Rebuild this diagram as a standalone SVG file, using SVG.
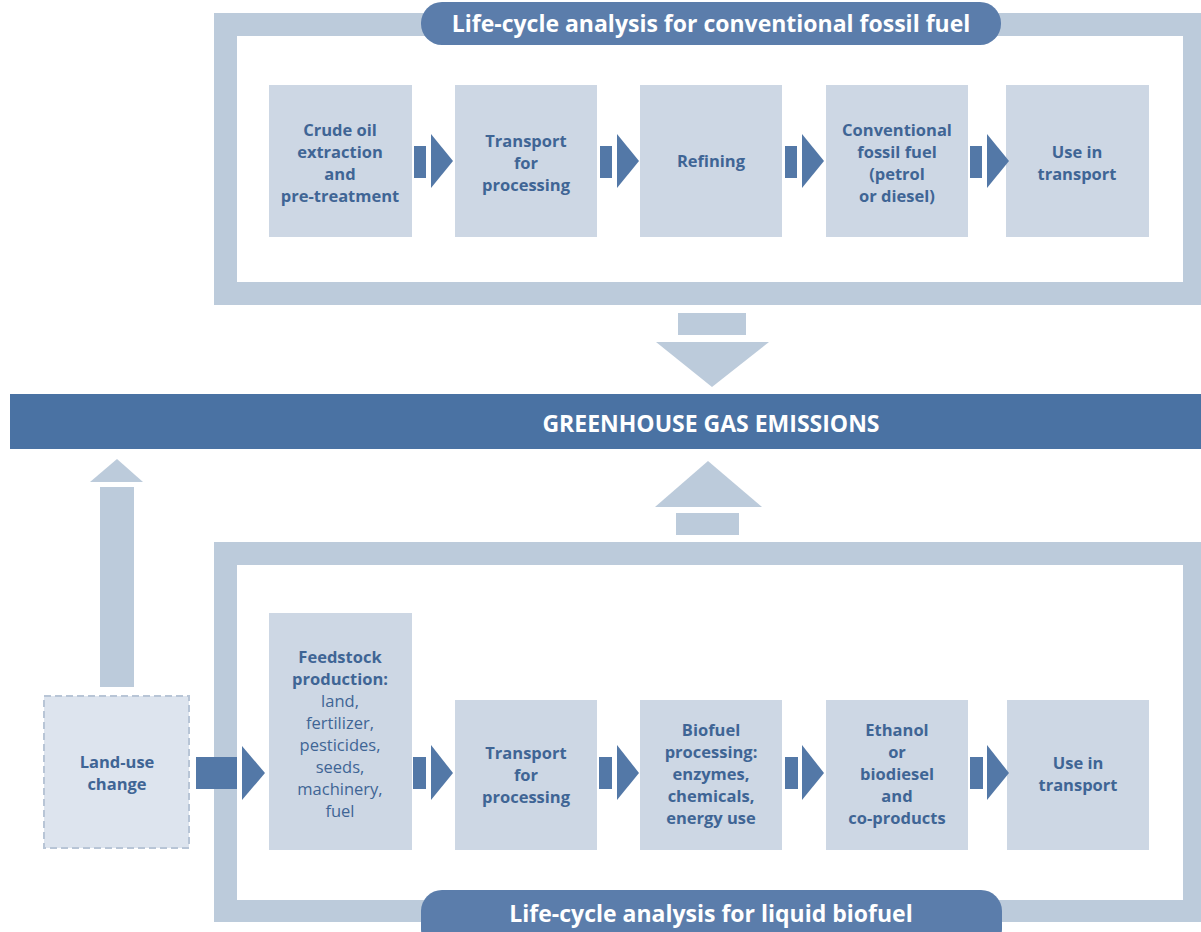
<svg xmlns="http://www.w3.org/2000/svg" width="1201" height="932" viewBox="0 0 1201 932">
<style>
.frame{fill:#bccbdb}
.inner{fill:#ffffff}
.box{fill:#cdd7e4}
.pill{fill:#5b7dab}
.dark{fill:#5378a7}
.light{fill:#bccbdb}
.t{font-family:"Open Sans","Liberation Sans",sans-serif;font-weight:700;font-size:16.5px;fill:#3f6595;text-anchor:middle}
.r{font-weight:400}
.w{font-family:"Open Sans","Liberation Sans",sans-serif;font-weight:700;fill:#ffffff;text-anchor:middle}
</style>
<rect width="1201" height="932" fill="#ffffff"/>
<g id="frame-fossil">
<rect class="frame" x="214" y="13" width="987" height="292"/>
<rect class="inner" x="237" y="36" width="946" height="246"/>
<rect class="pill" x="421" y="2" width="580" height="43" rx="21"/>
<text class="w" x="711" y="32" font-size="23">Life-cycle analysis for conventional fossil fuel</text>
</g>
<g id="frame-biofuel">
<rect class="frame" x="214" y="542" width="987" height="380"/>
<rect class="inner" x="237" y="565" width="946" height="335"/>
<rect class="pill" x="421" y="890" width="581" height="60" rx="21"/>
<text class="w" x="711" y="922" font-size="23">Life-cycle analysis for liquid biofuel</text>
</g>
<g id="ghg">
<rect x="10" y="394" width="1191" height="55" fill="#4a72a3"/>
<text class="w" x="711" y="432" font-size="23">GREENHOUSE GAS EMISSIONS</text>
</g>
<g id="n-crude">
<rect class="box" x="269" y="85" width="143" height="152"/>
<text class="t" x="340" y="136">Crude oil</text>
<text class="t" x="340" y="158">extraction</text>
<text class="t" x="340" y="180">and</text>
<text class="t" x="340" y="202">pre-treatment</text>
</g>
<g id="n-transport1">
<rect class="box" x="455" y="85" width="142" height="152"/>
<text class="t" x="526" y="147">Transport</text>
<text class="t" x="526" y="169">for</text>
<text class="t" x="526" y="191">processing</text>
</g>
<g id="n-refining">
<rect class="box" x="640" y="85" width="142" height="152"/>
<text class="t" x="711" y="167">Refining</text>
</g>
<g id="n-conventional">
<rect class="box" x="826" y="85" width="142" height="152"/>
<text class="t" x="897" y="136">Conventional</text>
<text class="t" x="897" y="158">fossil fuel</text>
<text class="t" x="897" y="180">(petrol</text>
<text class="t" x="897" y="202">or diesel)</text>
</g>
<g id="n-use1">
<rect class="box" x="1006" y="85" width="143" height="152"/>
<text class="t" x="1077" y="158">Use in</text>
<text class="t" x="1077" y="180">transport</text>
</g>
<g id="n-landuse">
<rect x="44" y="696" width="145" height="152" fill="#dde4ee" stroke="#b8c5d6" stroke-width="2" stroke-dasharray="7,4"/>
<text class="t" x="117" y="768">Land-use</text>
<text class="t" x="117" y="790">change</text>
</g>
<g id="n-feedstock">
<rect class="box" x="269" y="613" width="143" height="237"/>
<text class="t" x="340" y="663">Feedstock</text>
<text class="t" x="340" y="685">production:</text>
<text class="t r" x="340" y="707">land,</text>
<text class="t r" x="340" y="729">fertilizer,</text>
<text class="t r" x="340" y="751">pesticides,</text>
<text class="t r" x="340" y="773">seeds,</text>
<text class="t r" x="340" y="795">machinery,</text>
<text class="t r" x="340" y="817">fuel</text>
</g>
<g id="n-transport2">
<rect class="box" x="455" y="700" width="142" height="150"/>
<text class="t" x="526" y="759">Transport</text>
<text class="t" x="526" y="781">for</text>
<text class="t" x="526" y="803">processing</text>
</g>
<g id="n-biofuelproc">
<rect class="box" x="640" y="700" width="142" height="150"/>
<text class="t" x="711" y="736">Biofuel</text>
<text class="t" x="711" y="758">processing:</text>
<text class="t" x="711" y="780">enzymes,</text>
<text class="t" x="711" y="802">chemicals,</text>
<text class="t" x="711" y="824">energy use</text>
</g>
<g id="n-ethanol">
<rect class="box" x="826" y="700" width="142" height="150"/>
<text class="t" x="897" y="736">Ethanol</text>
<text class="t" x="897" y="758">or</text>
<text class="t" x="897" y="780">biodiesel</text>
<text class="t" x="897" y="802">and</text>
<text class="t" x="897" y="824">co-products</text>
</g>
<g id="n-use2">
<rect class="box" x="1007" y="700" width="142" height="150"/>
<text class="t" x="1078" y="769">Use in</text>
<text class="t" x="1078" y="791">transport</text>
</g>
<g id="connectors">
<g id="top-arrows" class="dark">
<rect x="414" y="146" width="12" height="32"/><polygon points="431,134 453,161 431,188"/>
<rect x="600" y="146" width="12" height="32"/><polygon points="617,134 639,161 617,188"/>
<rect x="785" y="146" width="12" height="32"/><polygon points="802,134 824,161 802,188"/>
<rect x="970" y="146" width="12" height="32"/><polygon points="987,134 1009,161 987,188"/>
</g>
<g id="bottom-arrows" class="dark">
<rect x="196" y="757" width="41" height="32"/><polygon points="242,746 265,773 242,800"/>
<rect x="413" y="757" width="13" height="32"/><polygon points="431,745 453,773 431,800"/>
<rect x="599" y="757" width="13" height="32"/><polygon points="617,745 639,773 617,800"/>
<rect x="785" y="757" width="13" height="32"/><polygon points="802,745 824,773 802,800"/>
<rect x="970" y="757" width="13" height="32"/><polygon points="987,745 1009,773 987,800"/>
</g>
<g id="ghg-arrows" class="light">
<rect x="678" y="313" width="68" height="22"/><polygon points="656,342 769,342 712,387"/>
<rect x="676" y="513" width="63" height="22"/><polygon points="655,507 762,507 708,461"/>
<rect x="100" y="487" width="34" height="200"/><polygon points="90,482 143,482 117,459"/>
</g>
</g>
</svg>
